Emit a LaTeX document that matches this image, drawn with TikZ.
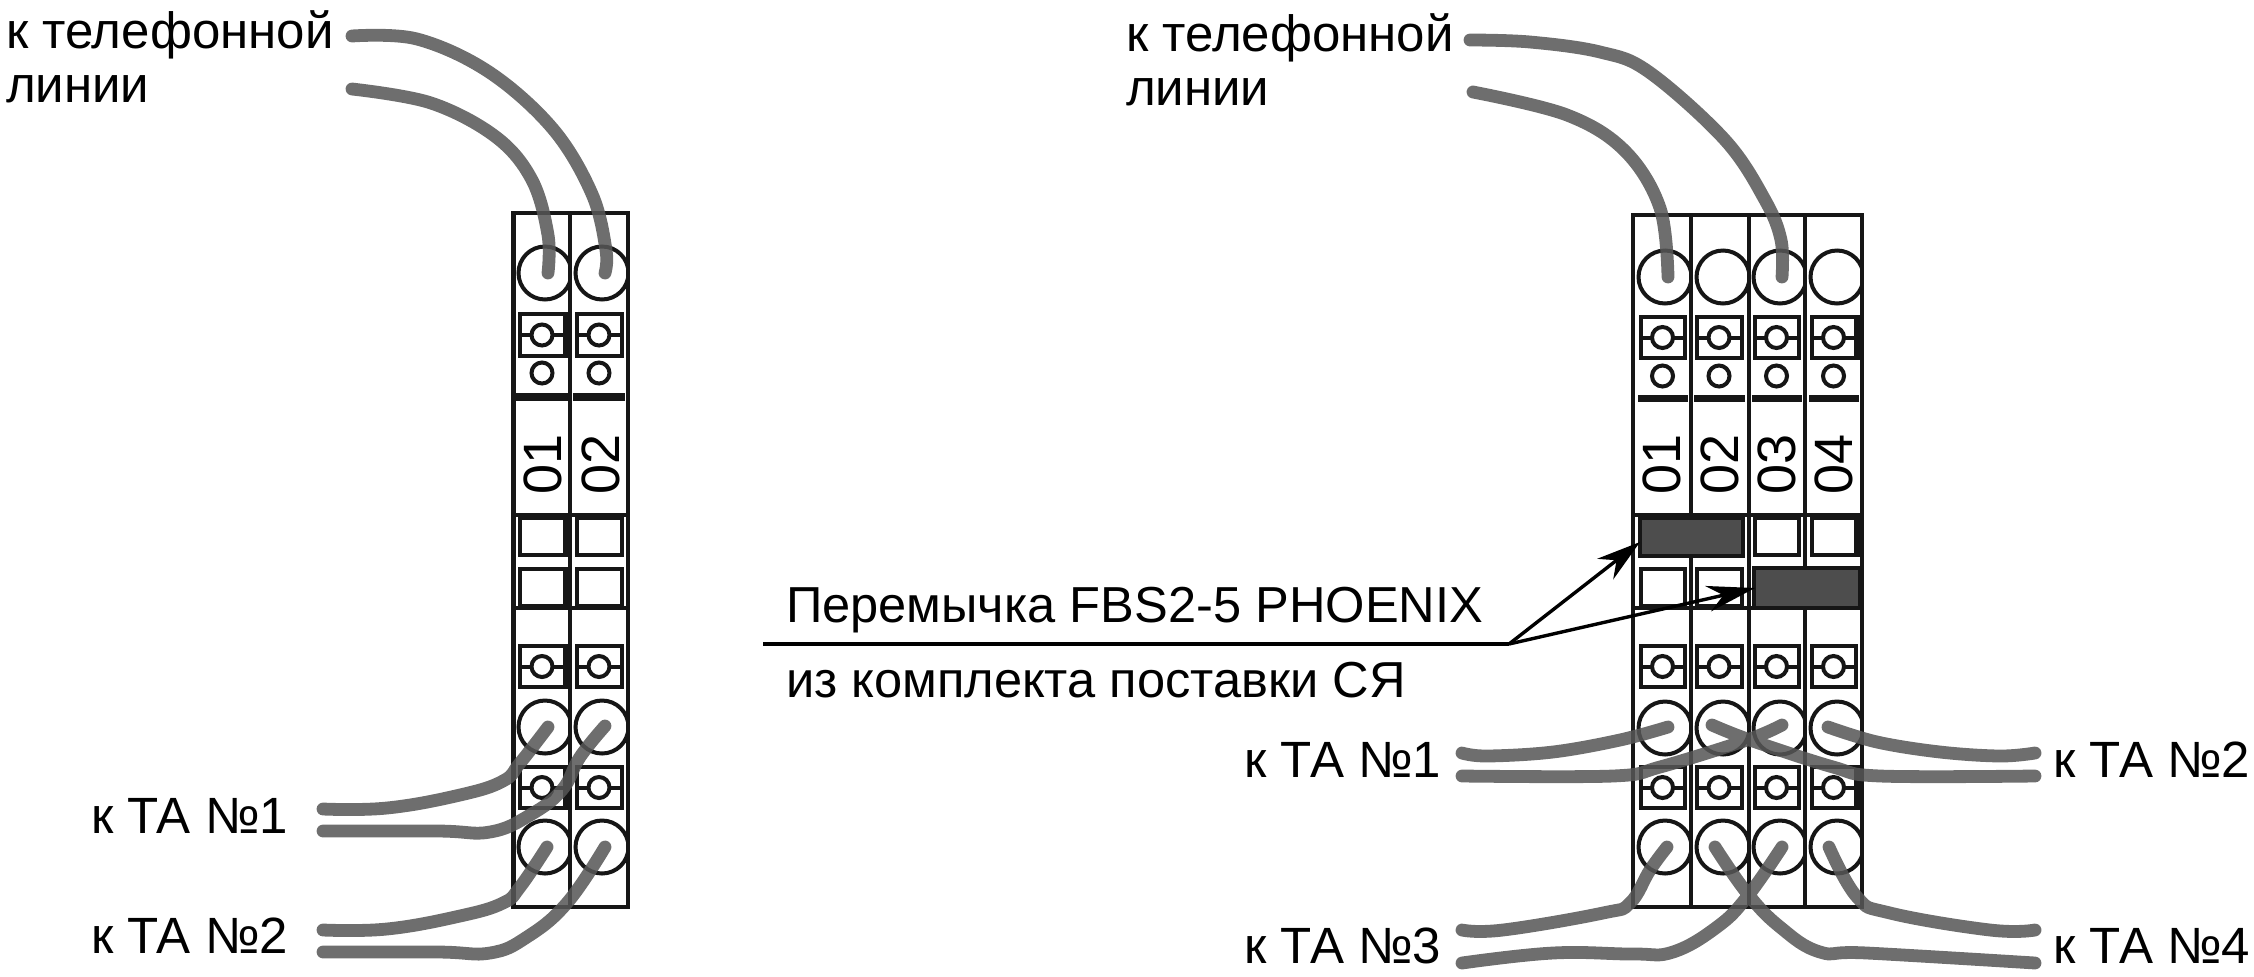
\documentclass[tikz,border=0pt]{standalone}
\usepackage{fontspec}
\setmainfont{Liberation Sans}
\usetikzlibrary{arrows.meta}
\definecolor{wirec}{HTML}{575757}
\definecolor{jumpc}{HTML}{4D4D4D}
\definecolor{inkc}{HTML}{161616}
\tikzset{
  framel/.style={draw=inkc,line width=2.3pt,line join=miter},
  cell/.style={draw=inkc,line width=2.2pt},
  term/.style={draw=inkc,line width=2pt},
  wire/.style={draw=wirec,opacity=.86,line width=6.4pt,line cap=round,line join=round},
  lead/.style={draw=black,line width=1.7pt},
  lab/.style={anchor=base west,inner sep=0pt,outer sep=0pt,font=\fontsize{25.5}{25.5}\selectfont,text=black},
  labj/.style={lab,font=\fontsize{25.3}{25.3}\selectfont},
  num/.style={anchor=base,rotate=90,inner sep=0pt,outer sep=0pt,font=\fontsize{27}{27}\selectfont,text=black},
}
% big terminal circle: cx, cy, clip right edge
\newcommand{\bigterm}[3]{\begin{scope}\clip (#1-40,#2-40) rectangle (#3,#2+40);\draw[term] (#1,#2) circle [radius=26.5];\end{scope}}
% small circle
\newcommand{\smallterm}[2]{\draw[term] (#1,#2) circle [radius=10.5];}
% plain box: outer x1,x2,y1,y2
\newcommand{\plainbox}[4]{\draw[cell] (#1+2,#3+2) rectangle (#2-2,#4-2);}
% screw box
\newcommand{\screwbox}[4]{\plainbox{#1}{#2}{#3}{#4}%
  \pgfmathsetmacro{\cxx}{(#1+#2)/2-.5}\pgfmathsetmacro{\cyy}{(#3+#4)/2}%
  \draw[term] (#1+2,\cyy) -- (\cxx-10.5,\cyy) (\cxx+10.5,\cyy) -- (#2-2,\cyy);
  \smallterm{\cxx}{\cyy}}
% thick filler on the right of a box
\newcommand{\thickr}[4]{\fill[inkc] (#1,#3) rectangle (#2,#4);}
% bar under the upper terminal
\newcommand{\barr}[4]{\fill[inkc] (#1,#3) rectangle (#2,#4);}
\begin{document}
\begin{tikzpicture}[x=.5pt,y=-.5pt]
\useasboundingbox (0,0) rectangle (2254,976);
\fill[white] (0,0) rectangle (2254,976);
% ---- left block
\draw[framel] (513.5,213) rectangle (628,907);
\draw[cell] (570,213) -- (570,907);
\draw[cell] (513.5,515) -- (628,515) (513.5,608) -- (628,608);
\bigterm{545}{273}{570}\bigterm{602}{273}{628}
\bigterm{545}{727}{570}\bigterm{602}{727}{628}
\bigterm{545}{847}{570}\bigterm{602}{847}{628}
\foreach \a/\b in {518/567,575/624}{
  \screwbox{\a}{\b}{312}{358}
  \pgfmathsetmacro{\c}{(\a+\b)/2-.5}
  \smallterm{\c}{373}
  \barr{\a-2}{\b+1}{393}{401}
  \plainbox{\a}{\b}{516}{557}
  \plainbox{\a}{\b}{567}{608}
  \screwbox{\a}{\b}{644}{689}
  \screwbox{\a}{\b}{765}{810}
}
\thickr{565}{570}{312}{358}\thickr{565}{570}{516}{557}\thickr{565}{570}{567}{608}
\thickr{565}{570}{644}{689}\thickr{565}{570}{765}{810}
\node[num] (ln1) at (561,464) {01};
\node[num] (ln2) at (619,464) {02};
% ---- right block
\draw[framel] (1633,215) rectangle (1862,907);
\draw[cell] (1691,215) -- (1691,907) (1749,215) -- (1749,907) (1805,215) -- (1805,907);
\draw[cell] (1633,515) -- (1862,515) (1633,608) -- (1862,608);
\bigterm{1665}{277}{1691}\bigterm{1723}{277}{1749}\bigterm{1780}{277}{1805}\bigterm{1837}{277}{1862}
\bigterm{1665}{728}{1691}\bigterm{1723}{728}{1749}\bigterm{1780}{728}{1805}\bigterm{1837}{728}{1862}
\bigterm{1665}{847}{1691}\bigterm{1723}{847}{1749}\bigterm{1780}{847}{1805}\bigterm{1837}{847}{1862}
\foreach \a/\b in {1639/1687,1695/1744,1753/1801,1810/1858}{
  \screwbox{\a}{\b}{315}{360}
  \pgfmathsetmacro{\c}{(\a+\b)/2-.5}
  \smallterm{\c}{376}
  \barr{\a-1}{\b+1}{395}{402}
  \screwbox{\a}{\b}{644}{689}
  \screwbox{\a}{\b}{765}{810}
}
\thickr{1856}{1862}{315}{360}\thickr{1856}{1862}{516}{557}\thickr{1856}{1862}{765}{810}
\plainbox{1753}{1801}{516}{557}\plainbox{1810}{1858}{516}{557}
\plainbox{1639}{1687}{567}{608}\plainbox{1695}{1744}{567}{608}
% jumpers
\draw[draw=inkc,line width=2.4pt,fill=jumpc] (1640,518) rectangle (1743,556);
\draw[draw=inkc,line width=2.4pt,fill=jumpc] (1754,568) rectangle (1860,608);
\node[num] (rn1) at (1680,464) {01};
\node[num] (rn2) at (1738,464) {02};
\node[num] (rn3) at (1795,464) {03};
\node[num] (rn4) at (1852,464) {04};
% ---- labels
\node[lab] (lt1) at (6,48) {к телефонной};
\node[lab] (lt2) at (6,102) {линии};
\node[lab] (rt1) at (1126,51) {к телефонной};
\node[lab] (rt2) at (1126,105) {линии};
\node[lab] (la1) at (91,833) {к ТА №1};
\node[lab] (la2) at (91,953) {к ТА №2};
\node[lab] (ra1) at (1244,777) {к ТА №1};
\node[lab] (ra3) at (1244,963) {к ТА №3};
\node[lab] (ra2) at (2053,777) {к ТА №2};
\node[lab] (ra4) at (2053,963) {к ТА №4};
\node[labj] (j1) at (786,622) {Перемычка FBS2-5 PHOENIX};
\node[labj] (j2) at (786,697) {из комплекта поставки СЯ};
% ---- wires
\draw[wire]
 plot[smooth,tension=.6] coordinates {(352,36)(417,39)(489,72)(553,129)(592,194)(606,250)(605,273)}
 plot[smooth,tension=.6] coordinates {(352,89)(431,103)(496,137)(532,180)(548,235)(548,273)}
 plot[smooth,tension=.6] coordinates {(1470,40)(1530,42)(1600,52)(1649,72)(1725,140)(1765,200)(1781,240)(1782,277)}
 plot[smooth,tension=.6] coordinates {(1473,92)(1567,115)(1625,151)(1660,208)(1668,277)}
 plot[smooth,tension=.7] coordinates {(323,809)(387,808)(460,795)(503,781)(520,763)(548,727)}
 plot[smooth,tension=.7] coordinates {(323,831)(437,831)(490,832)(530,815)(562,790)(580,757)(605,726)}
 plot[smooth,tension=.7] coordinates {(323,930)(387,929)(460,916)(503,903)(520,887)(547,847)}
 plot[smooth,tension=.7] coordinates {(323,952)(437,952)(490,953)(527,937)(567,903)(605,847)}
 plot[smooth,tension=.6] coordinates {(1462,753)(1487,756)(1553,752)(1620,740)(1668,727)}
 plot[smooth,tension=.6] coordinates {(1462,776)(1613,776)(1660,767)(1747,740)(1782,725)}
 plot[smooth,tension=.6] coordinates {(1828,727)(1877,742)(1940,752)(2000,756)(2035,753)}
 plot[smooth,tension=.6] coordinates {(2035,776)(1880,776)(1833,767)(1750,740)(1712,725)}
 plot[smooth,tension=.7] coordinates {(1462,930)(1503,930)(1603,913)(1630,903)(1650,870)(1667,847)}
 plot[smooth,tension=.7] coordinates {(1462,963)(1553,953)(1633,954)(1673,952)(1717,927)(1747,897)(1782,847)}
 plot[smooth,tension=.7] coordinates {(1829,847)(1857,897)(1890,913)(1990,930)(2035,930)}
 plot[smooth,tension=.7] coordinates {(2035,963)(1867,953)(1820,952)(1780,927)(1747,893)(1715,847)};
% ---- leader
\coordinate (ls) at (763,644);
\coordinate (lk) at (1509,644);
\coordinate (t1) at (1640,542);
\coordinate (t2) at (1755,588);
\draw[lead,line width=2.2pt] (ls) -- (lk);
\draw[lead,-{Stealth[length=22pt,width=13pt]}] (lk) -- (t1);
\draw[lead,-{Stealth[length=24pt,width=13pt]}] (lk) -- (t2);
\end{tikzpicture}
\end{document}
